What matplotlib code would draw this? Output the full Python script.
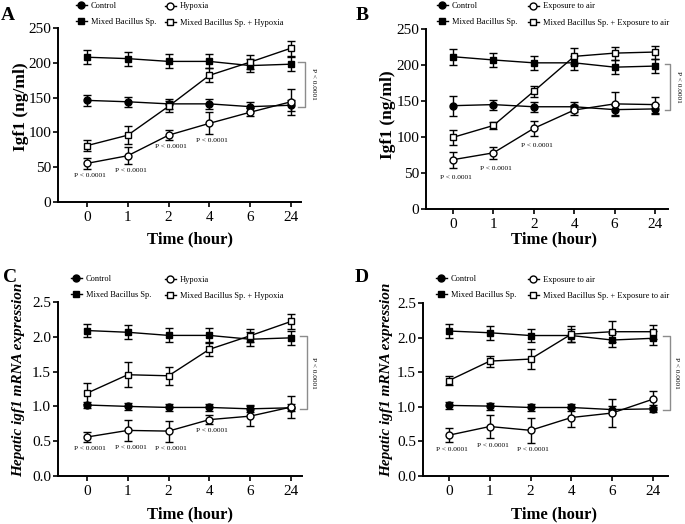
import matplotlib
matplotlib.use('Agg')
import matplotlib.pyplot as plt
from matplotlib.lines import Line2D
import numpy as np

plt.rcParams['font.family'] = ['Liberation Serif', 'DejaVu Serif']

# ---------------- data ----------------
time_labels = ['0', '1', '2', '4', '6', '24']

# Panel A (Igf1, hypoxia)
a_control = [146, 144, 141, 141, 137, 139]
a_control_err = [8, 7, 7, 7, 6, 8]
a_mixed = [208, 206, 202, 202, 196, 198]
a_mixed_err = [10, 10, 10, 10, 9, 10]
a_treat = [55.5, 66.5, 96, 113, 129, 144]
a_treat_err = [8, 12, 7, 16, 6, 19]
a_mixtreat = [81, 96, 137.5, 182, 201, 221]
a_mixtreat_err = [8, 13, 8, 10, 10, 11]

# Panel B (Igf1, exposure to air)
b_control = [143.5, 145, 142, 142, 138, 139]
b_control_err = [14, 7, 7, 7, 7, 7]
b_mixed = [211.5, 207, 203, 203, 197, 198.5]
b_mixed_err = [11, 10, 10, 10, 10, 10]
b_treat = [68.5, 78, 112, 137.5, 146, 145]
b_treat_err = [11, 8, 10, 7, 17, 11]
b_mixtreat = [99.5, 116, 163.5, 212, 216.5, 218]
b_mixtreat_err = [10, 5, 8, 11, 9, 9]

# Panel C (hepatic igf1 mRNA, hypoxia)
c_control = [1.02, 1.00, 0.985, 0.985, 0.965, 0.98]
c_control_err = [0.05, 0.05, 0.05, 0.05, 0.05, 0.05]
c_mixed = [2.09, 2.065, 2.02, 2.02, 1.965, 1.985]
c_mixed_err = [0.1, 0.1, 0.1, 0.1, 0.1, 0.1]
c_treat = [0.56, 0.655, 0.645, 0.81, 0.86, 0.99]
c_treat_err = [0.07, 0.15, 0.15, 0.06, 0.14, 0.16]
c_mixtreat = [1.19, 1.455, 1.44, 1.82, 2.015, 2.22]
c_mixtreat_err = [0.15, 0.18, 0.13, 0.09, 0.09, 0.11]

# Panel D (hepatic igf1 mRNA, exposure to air)
d_control = [1.02, 1.01, 0.99, 0.99, 0.96, 0.97]
d_control_err = [0.05, 0.05, 0.05, 0.05, 0.05, 0.05]
d_mixed = [2.095, 2.07, 2.03, 2.03, 1.965, 1.99]
d_mixed_err = [0.1, 0.1, 0.1, 0.1, 0.1, 0.1]
d_treat = [0.59, 0.715, 0.66, 0.845, 0.91, 1.11]
d_treat_err = [0.1, 0.17, 0.18, 0.14, 0.2, 0.12]
d_mixtreat = [1.38, 1.66, 1.69, 2.05, 2.085, 2.085]
d_mixtreat_err = [0.06, 0.08, 0.14, 0.12, 0.15, 0.1]

# time points (indices) carrying a "P < 0.0001" label
a_pidx = [0, 1, 2, 3]
b_pidx = [0, 1, 2]
c_pidx = [0, 1, 2, 3]
d_pidx = [0, 1, 2]

p_text = 'P < 0.0001'
igf_ticks = [0, 50, 100, 150, 200, 250]
mrna_ticks = [0.0, 0.5, 1.0, 1.5, 2.0, 2.5]

# ---------------- figure ----------------
W, H = 685, 524
fig = plt.figure(figsize=(W / 100, H / 100), dpi=100)


def px_axes(l, r, top, bottom):
    return fig.add_axes([l / W, 1 - bottom / H, (r - l) / W, (bottom - top) / H])


def draw_panel(ax, letter, xlim, ymax, yticks, yfmt, ylabel, ylabel_style,
               control, control_err, mixed, mixed_err, treat, treat_err,
               mixtreat, mixtreat_err, treat_name, pidx, p_off,
               ylab_xy, xlab_xy, leg1_xy, leg2_xy, letter_xy, br_x, br_tx):
    x = np.arange(len(time_labels))
    common = dict(color='black', lw=1.0, capsize=2.6, capthick=1.0,
                  elinewidth=1.0, markersize=5, markeredgewidth=1.0)
    ax.errorbar(x, control, yerr=control_err, marker='o', mfc='black', mec='black', **common)
    ax.errorbar(x, mixed, yerr=mixed_err, marker='s', mfc='black', mec='black', **common)
    ax.errorbar(x, treat, yerr=treat_err, marker='o', mfc='white', mec='black', zorder=3, **common)
    ax.errorbar(x, mixtreat, yerr=mixtreat_err, marker='s', mfc='white', mec='black', zorder=3, **common)

    ax.set_xlim(*xlim)
    ax.set_ylim(0, ymax)
    ax.set_xticks(x)
    ax.set_xticklabels(time_labels)
    ax.set_yticks(yticks)
    ax.set_yticklabels([yfmt.format(v) for v in yticks])
    for s in ['top', 'right']:
        ax.spines[s].set_visible(False)
    for s in ['left', 'bottom']:
        ax.spines[s].set_linewidth(1.4)
    ax.tick_params(axis='both', direction='out', length=3.5, width=1.2,
                   labelsize=11, pad=1.5)
    ax.tick_params(axis='x', pad=3)

    ax.set_ylabel(ylabel, fontsize=ylabel_style[0], fontweight='bold',
                  fontstyle=ylabel_style[1])
    ax.yaxis.set_label_coords(*ylab_xy)
    ax.set_xlabel('Time (hour)', fontsize=12, fontweight='bold')
    ax.xaxis.set_label_coords(*xlab_xy)

    # P-value labels under the treatment error bars
    for i in pidx:
        ax.annotate(p_text, xy=(x[i], treat[i] - treat_err[i]),
                    xytext=(2, -p_off), textcoords='offset points',
                    ha='center', va='center', fontsize=5.3)

    # bracket between Mixed and Control at last time point
    top = mixed[-1] + ymax * 0.012
    bot = control[-1] - ymax * 0.008
    ax.plot([br_x[0], br_x[1], br_x[1], br_x[0]], [top, top, bot, bot],
            color='#8c8c8c', lw=1.0, clip_on=False)
    ax.text(br_tx, (top + bot) / 2, p_text, rotation=-90, ha='center',
            va='center', fontsize=5.3, clip_on=False)

    # legend (two columns)
    mk = dict(color='black', lw=1.0, markersize=5, markeredgewidth=1.0)
    h1 = [Line2D([], [], marker='o', mfc='black', **mk),
          Line2D([], [], marker='s', mfc='black', **mk)]
    h2 = [Line2D([], [], marker='o', mfc='white', mec='black', **mk),
          Line2D([], [], marker='s', mfc='white', mec='black', **mk)]
    lkw = dict(frameon=False, fontsize=6, handlelength=1.3, handletextpad=0.5,
               labelspacing=1.0, borderpad=0, borderaxespad=0,
               loc='upper left', bbox_transform=fig.transFigure)
    leg1 = ax.legend(h1, ['Control', 'Mixed Bacillus Sp.'],
                     bbox_to_anchor=(leg1_xy[0] / W, 1 - leg1_xy[1] / H), **lkw)
    ax.add_artist(leg1)
    ax.legend(h2, [treat_name, 'Mixed Bacillus Sp. + ' + treat_name],
              bbox_to_anchor=(leg2_xy[0] / W, 1 - leg2_xy[1] / H), **lkw)

    fig.text(letter_xy[0] / W, 1 - letter_xy[1] / H, letter, fontsize=14,
             fontweight='bold', ha='center', va='center')


axA = px_axes(58, 301, 28, 202)
draw_panel(axA, 'A', (-0.71, 5.245), 250, igf_ticks, '{:d}', 'Igf1 (ng/ml)', (12.5, 'normal'),
           a_control, a_control_err, a_mixed, a_mixed_err, a_treat, a_treat_err,
           a_mixtreat, a_mixtreat_err, 'Hypoxia', a_pidx, 4.5,
           (-0.12, 0.546), (0.543, -0.17), (76, 1.5), (165, 2.5), (8, 15),
           (5.17, 5.34), 5.55)

axB = px_axes(426, 668, 29, 209)
draw_panel(axB, 'B', (-0.668, 5.32), 250, igf_ticks, '{:d}', 'Igf1 (ng/ml)', (12.5, 'normal'),
           b_control, b_control_err, b_mixed, b_mixed_err, b_treat, b_treat_err,
           b_mixtreat, b_mixtreat_err, 'Exposure to air', b_pidx, 7,
           (-0.125, 0.522), (0.529, -0.122), (437, 1.5), (528, 2.5), (362, 16),
           (5.25, 5.37), 5.58)

axC = px_axes(58, 302, 302, 476)
draw_panel(axC, 'C', (-0.71, 5.27), 2.5, mrna_ticks, '{:.1f}', 'Hepatic igf1 mRNA expression',
           (11, 'italic'),
           c_control, c_control_err, c_mixed, c_mixed_err, c_treat, c_treat_err,
           c_mixtreat, c_mixtreat_err, 'Hypoxia', c_pidx, 5,
           (-0.136, 0.552), (0.543, -0.172), (71, 275), (165, 276), (10, 277),
           (5.22, 5.39), 5.55)

axD = px_axes(423, 668, 303, 476)
draw_panel(axD, 'D', (-0.637, 5.37), 2.5, mrna_ticks, '{:.1f}', 'Hepatic igf1 mRNA expression',
           (11, 'italic'),
           d_control, d_control_err, d_mixed, d_mixed_err, d_treat, d_treat_err,
           d_mixtreat, d_mixtreat_err, 'Exposure to air', d_pidx, 5,
           (-0.122, 0.555), (0.535, -0.178), (436, 275), (528, 276), (362, 277),
           (5.25, 5.42), 5.57)

fig.savefig('out.png', dpi=100)
